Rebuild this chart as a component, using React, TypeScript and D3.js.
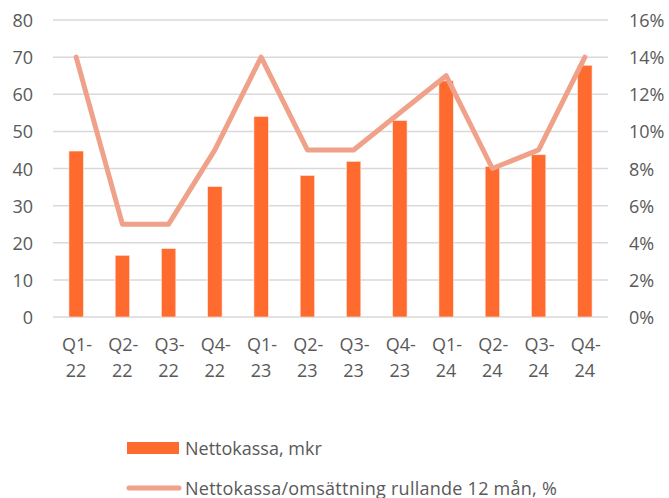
import * as d3 from "d3";

const W = 669;
const H = 498;
const PLOT = { left: 53, right: 608, top: 20, bottom: 317 };

const quarters = ["Q1-", "Q2-", "Q3-", "Q4-", "Q1-", "Q2-", "Q3-", "Q4-", "Q1-", "Q2-", "Q3-", "Q4-"];
const years = ["22", "22", "22", "22", "23", "23", "23", "23", "24", "24", "24", "24"];
const nettokassa = [44.7, 16.6, 18.4, 35.1, 54.0, 38.1, 41.9, 52.9, 63.6, 40.5, 43.7, 67.8];
const andel = [14, 5, 5, 9, 14, 9, 9, 11, 13, 8, 9, 14];
const leftTicks = [0, 10, 20, 30, 40, 50, 60, 70, 80];
const rightTicks = [0, 2, 4, 6, 8, 10, 12, 14, 16];

const BAR_COLOR = "#FF6A2F";
const LINE_COLOR = "#F0A189";
const TEXT = "#595959";
const FONT = "'Open Sans', sans-serif";

export default function App() {
  const keys = quarters.map((q, i) => q + years[i] + i);

  const x = d3.scaleBand().domain(keys).range([PLOT.left, PLOT.right]).padding(0);
  const barW = x.bandwidth() * 0.31;

  const yLeft = d3.scaleLinear().domain([0, 80]).range([PLOT.bottom, PLOT.top]);
  const yRight = d3.scaleLinear().domain([0, 16]).range([PLOT.bottom, PLOT.top]);

  const line = d3
    .line<number>()
    .x((_, i) => (x(keys[i]) ?? 0) + x.bandwidth() / 2)
    .y((d) => yRight(d));

  return (
    <div>
      <style>{"body{margin:0}"}</style>
      <svg width={W} height={H} style={{ display: "block", fontFamily: FONT }}>
        <rect width={W} height={H} fill="#fff" />
        {leftTicks.map((t) => (
          <line
            key={t}
            x1={PLOT.left}
            x2={PLOT.right}
            y1={yLeft(t)}
            y2={yLeft(t)}
            stroke="#D9D9D9"
            strokeWidth={1.5}
          />
        ))}
        {leftTicks.map((t) => (
          <text
            key={"l" + t}
            x={33}
            y={yLeft(t)}
            textAnchor="end"
            dominantBaseline="central"
            fontSize={18}
            fill={TEXT}
          >
            {t}
          </text>
        ))}
        {rightTicks.map((t) => (
          <text
            key={"r" + t}
            x={629}
            y={yRight(t)}
            textAnchor="start"
            dominantBaseline="central"
            fontSize={18}
            fill={TEXT}
          >
            {t}%
          </text>
        ))}
        {nettokassa.map((v, i) => {
          const cx = (x(keys[i]) ?? 0) + x.bandwidth() / 2;
          return (
            <rect
              key={i}
              x={cx - barW / 2}
              y={yLeft(v)}
              width={barW}
              height={yLeft(0) - yLeft(v)}
              fill={BAR_COLOR}
              stroke="#FFE3D6"
              strokeWidth={0.6}
            />
          );
        })}
        <path
          d={line(andel) ?? ""}
          fill="none"
          stroke={LINE_COLOR}
          strokeWidth={5}
          strokeLinejoin="round"
          strokeLinecap="round"
        />
        {keys.map((k, i) => {
          const cx = (x(k) ?? 0) + x.bandwidth() / 2;
          return (
            <text key={k} textAnchor="middle" fontSize={18} fill={TEXT}>
              <tspan x={cx + 1} y={351}>
                {quarters[i]}
              </tspan>
              <tspan x={cx} y={377}>
                {years[i]}
              </tspan>
            </text>
          );
        })}
        <rect x={127} y={442} width={52} height={12} fill={BAR_COLOR} />
        <text x={185} y={448} dominantBaseline="central" fontSize={18} fill={TEXT}>
          Nettokassa, mkr
        </text>
        <line
          x1={129}
          x2={179}
          y1={488}
          y2={488}
          stroke={LINE_COLOR}
          strokeWidth={5}
          strokeLinecap="round"
        />
        <text
          x={185}
          y={488}
          dominantBaseline="central"
          fontSize={18}
          letterSpacing={0.25}
          fill={TEXT}
        >
          Nettokassa/omsättning rullande 12 mån, %
        </text>
      </svg>
    </div>
  );
}
